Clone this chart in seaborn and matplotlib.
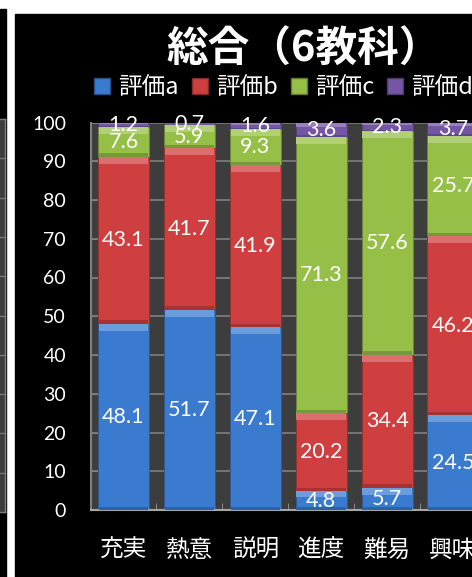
import matplotlib
matplotlib.use('Agg')
import matplotlib.pyplot as plt
import matplotlib.colors as mcolors
from matplotlib.patches import Rectangle, Patch
from matplotlib.lines import Line2D
import seaborn as sns
import numpy as np

# ---- data ----
categories = ['充実', '熱意', '説明', '進度', '難易', '興味']
series_names = ['評価a', '評価b', '評価c', '評価d']
eval_a = [48.1, 51.7, 47.1, 4.8, 5.7, 24.5]
eval_b = [43.1, 41.7, 41.9, 20.2, 34.4, 46.2]
eval_c = [7.6, 5.9, 9.3, 71.3, 57.6, 25.7]
eval_d = [1.2, 0.7, 1.6, 3.6, 2.3, 3.7]
y_ticks = [0, 10, 20, 30, 40, 50, 60, 70, 80, 90, 100]
title = '総合（6教科）'

colors = ['#3a7bd0', '#cf3f3f', '#96bf48', '#7556a4']

W, H = 472, 577
plt.rcParams['font.family'] = ['Lato', 'Noto Sans CJK JP', 'DejaVu Sans']
CJK = ['Noto Sans CJK JP', 'DejaVu Sans']

fig = plt.figure(figsize=(W / 100, H / 100), dpi=100, facecolor='white')


def fx(px):
    return px / W


def fy(py):
    return 1 - py / H


def mix(c, other, t):
    a = np.array(mcolors.to_rgb(c))
    b = np.array(mcolors.to_rgb(other))
    return tuple(a * (1 - t) + b * t)


# ---- frames (neighbouring chart edge + main chart background) ----
fig.add_artist(Rectangle((0, 0), fx(6), fy(9), transform=fig.transFigure,
                         color='black', zorder=-2))
fig.add_artist(Rectangle((0, fy(512)), fx(5), (512 - 119) / H,
                         transform=fig.transFigure, color='#3d3d3d', zorder=-1))
for k in range(11):
    yy = 512 - 39.3 * k
    fig.add_artist(Line2D([0, fx(5)], [fy(yy), fy(yy)], transform=fig.transFigure,
                          color='#7a7a7a', lw=1, zorder=-1))
fig.add_artist(Line2D([fx(5), fx(5)], [fy(512), fy(119)], transform=fig.transFigure,
                      color='#808080', lw=1, zorder=-1))
fig.add_artist(Rectangle((fx(15), 0), 1 - fx(15), fy(14), transform=fig.transFigure,
                         color='black', zorder=-2))

# ---- axes ----
ax = fig.add_axes([fx(90.5), fy(510), 6 * 65.9 / W, (510 - 122.5) / H])
ax.set_facecolor('#3d3d3d')

data = np.array([eval_a, eval_b, eval_c, eval_d])
cum = data.cumsum(axis=0)
bottoms = cum - data
bw = 0.774

for i in range(3, -1, -1):
    sns.barplot(x=categories, y=cum[i], order=categories, color=colors[i],
                width=bw, saturation=1, ax=ax, edgecolor=mix(colors[i], 'black', 0.3),
                linewidth=0.6, zorder=2)

x = np.arange(len(categories))
for i in range(4):
    h = data[i]
    band = np.minimum(1.8, h * 0.3)
    ax.bar(x, band, bottom=cum[i] - band, width=bw * 0.97,
           color=mix(colors[i], 'white', 0.25), lw=0, zorder=3)
    dband = np.minimum(0.9, h * 0.15)
    ax.bar(x, dband, bottom=bottoms[i], width=bw * 0.97,
           color=mix(colors[i], 'black', 0.2), lw=0, zorder=3)

for i in range(4):
    for j in range(len(categories)):
        ax.text(j, bottoms[i][j] + data[i][j] / 2, f'{data[i][j]:.1f}',
                ha='center', va='center', color='white', fontsize=15.5,
                family='Lato', zorder=5)

ax.set_xlim(-0.5, len(categories) - 0.5)
ax.set_ylim(0, 100)
ax.set_yticks(y_ticks)
ax.set_yticklabels([str(t) for t in y_ticks])
ax.set_xticks(x)
ax.set_xticklabels(categories, family=CJK)
ax.set_xticks(np.arange(-0.5, len(categories), 1), minor=True)
ax.set_xlabel('')
ax.set_ylabel('')

ax.yaxis.grid(True, color='#808080', lw=1.2)
ax.xaxis.grid(False)
ax.set_axisbelow(True)

ax.tick_params(axis='y', direction='in', length=7, color='#808080', pad=17.6,
               labelsize=14, labelcolor='white')
ax.tick_params(axis='x', which='major', length=0, pad=21, labelsize=17,
               labelcolor='white')
ax.tick_params(axis='x', which='minor', direction='in', length=5, color='#9a9a9a')

for s in ['top', 'right']:
    ax.spines[s].set_visible(False)
ax.spines['left'].set_color('#808080')
ax.spines['left'].set_linewidth(1.5)
ax.spines['bottom'].set_color('#a6a6a6')
ax.spines['bottom'].set_linewidth(1.5)

# ---- legend ----
handles = [Patch(facecolor=c, edgecolor=mix(c, 'black', 0.35)) for c in colors]
fig.legend(handles, series_names, loc='center left',
           bbox_to_anchor=(fx(94), fy(88)), bbox_transform=fig.transFigure,
           ncol=4, frameon=False, handlelength=0.68, handleheight=0.68,
           handletextpad=0.34, columnspacing=0.56, borderpad=0, borderaxespad=0,
           labelcolor='white', prop={'family': CJK, 'size': 17})

# ---- title ----
fig.text(fx(304), fy(50), title, ha='center', va='center', fontsize=30,
         fontweight='bold', color='white', family=CJK)

fig.savefig('out.png', dpi=100, facecolor='white')
